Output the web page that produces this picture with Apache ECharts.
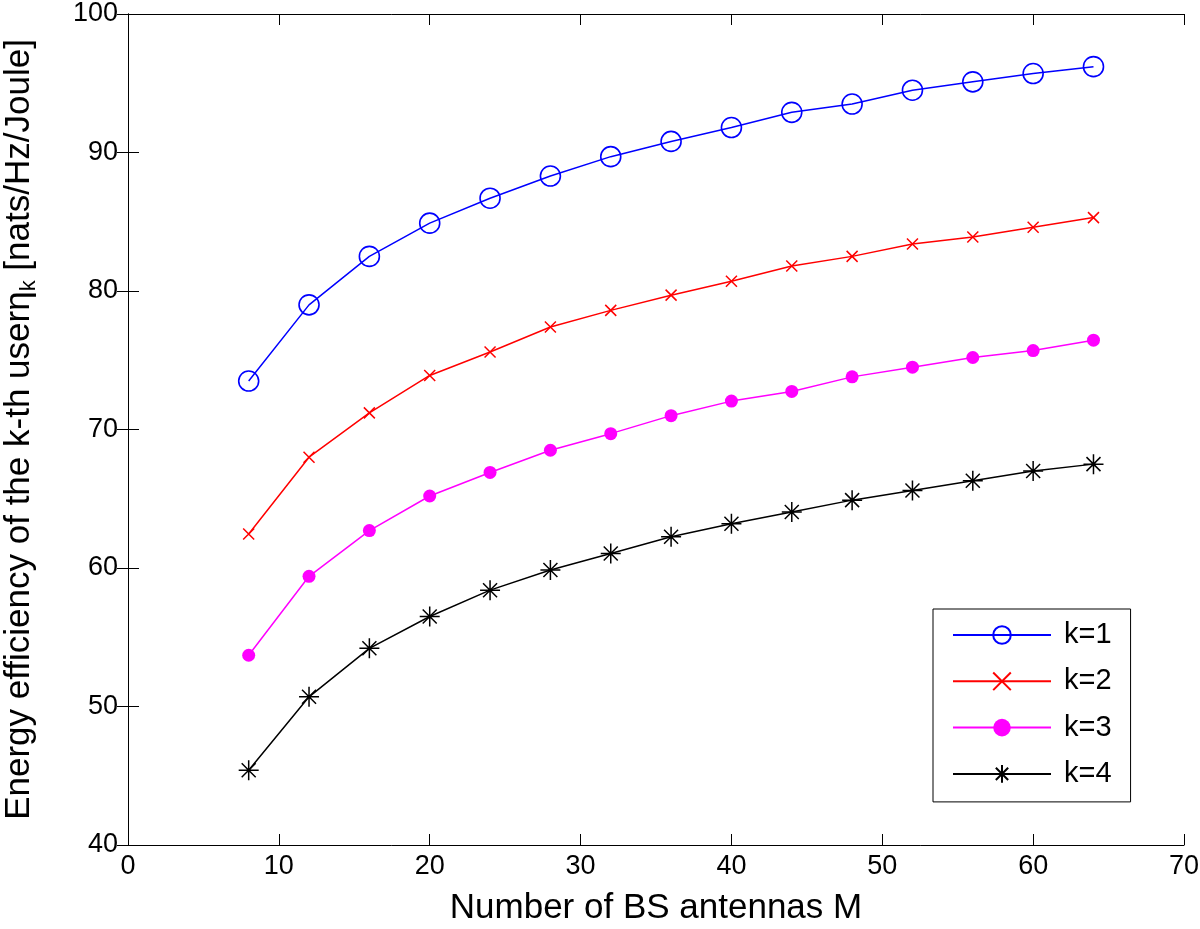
<!DOCTYPE html>
<html>
<head>
<meta charset="utf-8">
<script src="https://cdn.jsdelivr.net/npm/echarts@6/dist/echarts.min.js"></script>
<style>
html,body{margin:0;padding:0;background:#fff;}
#chart{width:1200px;height:929px;}
</style>
</head>
<body>
<div id="chart"></div>
<script>
// ---- data ----
const antennas = [8, 12, 16, 20, 24, 28, 32, 36, 40, 44, 48, 52, 56, 60, 64];
const k1 = [73.5, 79.0, 82.5, 84.9, 86.7, 88.3, 89.7, 90.8, 91.8, 92.9, 93.5, 94.5, 95.1, 95.7, 96.2];
const k2 = [62.45, 68.0, 71.2, 73.9, 75.6, 77.4, 78.6, 79.7, 80.7, 81.8, 82.5, 83.4, 83.9, 84.6, 85.3];
const k3 = [53.7, 59.4, 62.7, 65.2, 66.9, 68.5, 69.7, 71.0, 72.05, 72.75, 73.8, 74.5, 75.2, 75.7, 76.45];
const k4 = [45.4, 50.7, 54.2, 56.5, 58.4, 59.85, 61.05, 62.25, 63.2, 64.05, 64.9, 65.6, 66.3, 67.0, 67.5];
const seriesNames = ['k=1', 'k=2', 'k=3', 'k=4'];
const xTicks = {min: 0, max: 70, interval: 10};
const yTicks = {min: 40, max: 100, interval: 10};
const xTitle = 'Number of BS antennas M';
const yTitleMain = 'Energy efficiency of the k-th user';
const yTitleSym = 'η';
const yTitleSub = 'k';
const yTitleUnit = ' [nats/Hz/Joule]';

const FONT = '"Liberation Sans", Arial, sans-serif';
function pairs(ys){ return antennas.map((m,i)=>[m, ys[i]]); }

const chart = echarts.init(document.getElementById('chart'), null, {renderer:'canvas'});

const axisCommon = {
  axisLine: {show:true, lineStyle:{color:'#000', width:1}},
  axisTick: {show:true, inside:true, length:11, lineStyle:{color:'#000', width:1}},
  splitLine: {show:false}
};

const option = {
  backgroundColor: '#fff',
  animation: false,
  grid: {left:128, right:16, top:14, bottom:84, containLabel:false, outerBoundsMode:'none'},
  legend: {
    data: seriesNames,
    orient: 'vertical',
    left: 933, top: 609,
    padding: [9, 19, 11, 19],
    itemWidth: 98, itemHeight: 22, itemGap: 12.3,
    backgroundColor: '#fff',
    borderColor: '#000', borderWidth: 1, borderRadius: 0,
    textStyle: {fontFamily: FONT, fontSize: 29, color:'#000', lineHeight: 34, padding:[0,0,0,8]}
  },
  xAxis: [
    Object.assign({
      type:'value', position:'bottom', min:xTicks.min, max:xTicks.max, interval:xTicks.interval,
      name: xTitle, nameLocation:'middle', nameGap: 46,
      nameTextStyle:{fontFamily:FONT, fontSize:35, color:'#000'},
      axisLabel:{fontFamily:FONT, fontSize:27, color:'#000', margin:8}
    }, axisCommon),
    Object.assign({
      type:'value', position:'top', min:xTicks.min, max:xTicks.max, interval:xTicks.interval,
      axisLabel:{show:false}
    }, axisCommon)
  ],
  yAxis: [
    Object.assign({
      type:'value', position:'left', min:yTicks.min, max:yTicks.max, interval:yTicks.interval,
      name: '{a|' + yTitleMain + '}{a|' + yTitleSym + '}{s|' + yTitleSub + '}{a|' + yTitleUnit + '}',
      nameLocation:'middle', nameGap: 88, nameRotate: 90,
      nameTextStyle:{
        fontFamily:FONT, color:'#000',
        rich:{
          a:{fontFamily:FONT, fontSize:35, color:'#000', lineHeight:42},
          s:{fontFamily:FONT, fontSize:22, color:'#000', lineHeight:23, verticalAlign:'bottom'}
        }
      },
      axisLabel:{fontFamily:FONT, fontSize:27, color:'#000', margin:10}
    }, axisCommon),
    Object.assign({
      type:'value', position:'right', min:yTicks.min, max:yTicks.max, interval:yTicks.interval,
      axisLabel:{show:false}
    }, axisCommon)
  ],
  series: [
    {
      name: seriesNames[0], type:'line', data: pairs(k1),
      symbol:'circle', symbolSize:20, showSymbol:true,
      lineStyle:{color:'#0000ff', width:1.5},
      itemStyle:{color:'rgba(0,0,0,0)', borderColor:'#0000ff', borderWidth:1.6},
      color:'#0000ff'
    },
    {
      name: seriesNames[1], type:'line', data: pairs(k2),
      symbol:'path://M0,0L10,10M10,0L0,10', symbolSize:11,
      lineStyle:{color:'#ff0000', width:1.5},
      itemStyle:{color:'rgba(0,0,0,0)', borderColor:'#ff0000', borderWidth:1.5},
      color:'#ff0000'
    },
    {
      name: seriesNames[2], type:'line', data: pairs(k3),
      symbol:'circle', symbolSize:13,
      lineStyle:{color:'#ff00ff', width:1.5},
      itemStyle:{color:'#ff00ff', borderColor:'#ff00ff', borderWidth:0},
      color:'#ff00ff'
    },
    {
      name: seriesNames[3], type:'line', data: pairs(k4),
      symbol:'path://M10,0L10,20M0,10L20,10M3,3L17,17M17,3L3,17', symbolSize:20,
      lineStyle:{color:'#000000', width:1.5},
      itemStyle:{color:'rgba(0,0,0,0)', borderColor:'#000000', borderWidth:1.5},
      color:'#000000'
    }
  ]
};
chart.setOption(option);
</script>
</body>
</html>
